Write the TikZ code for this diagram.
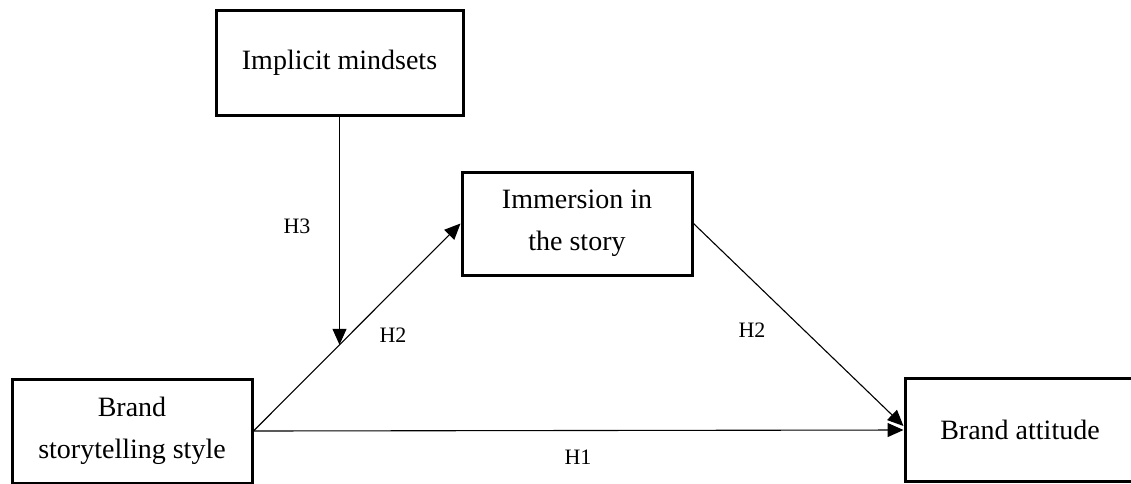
\documentclass[tikz,border=0pt]{standalone}
\usepackage{fontspec}
\setmainfont{Liberation Serif}
\usetikzlibrary{arrows.meta,calc}
\begin{document}
\begin{tikzpicture}[x=1pt,y=-1pt,
  box/.style={draw=black,line width=3pt,rectangle,inner sep=0pt,align=center,
    font=\fontsize{28}{42}\selectfont},
  conn/.style={line width=1.1pt,-{Triangle[length=16pt,width=14pt]}},
  lab/.style={inner sep=0pt,font=\fontsize{22}{26}\selectfont}]
\useasboundingbox (0,0) rectangle (1131,483);
\node[box,minimum width=247pt,minimum height=105pt] (imp) at (339.5,62.5) {Implicit mindsets};
\node[box,minimum width=230pt,minimum height=103pt] (imm) at (577,223.5) {Immersion in\\the story};
\node[box,minimum width=240pt,minimum height=104pt] (story) at (132,431) {Brand\\storytelling style};
\node[box,minimum width=230pt,minimum height=103pt] (att) at (1020,430) {Brand attitude};
\coordinate (below) at (imp.south |- story.north);
\coordinate (m) at (intersection of imp.south--below and story.east--imm.west);
\draw[conn] (story.east) -- (imm.west);
\draw[conn] (imp.south) -- (m);
\draw[conn] (imm.east) -- ($(att.west)+(0,-4)$);
\draw[conn] (story.east) -- (att.west);
\node[lab] (h3) at (297,226) {H3};
\node[lab] (h2a) at (393,335) {H2};
\node[lab] (h2b) at (752,330) {H2};
\node[lab] (h1) at (578,457) {H1};
\end{tikzpicture}
\end{document}
